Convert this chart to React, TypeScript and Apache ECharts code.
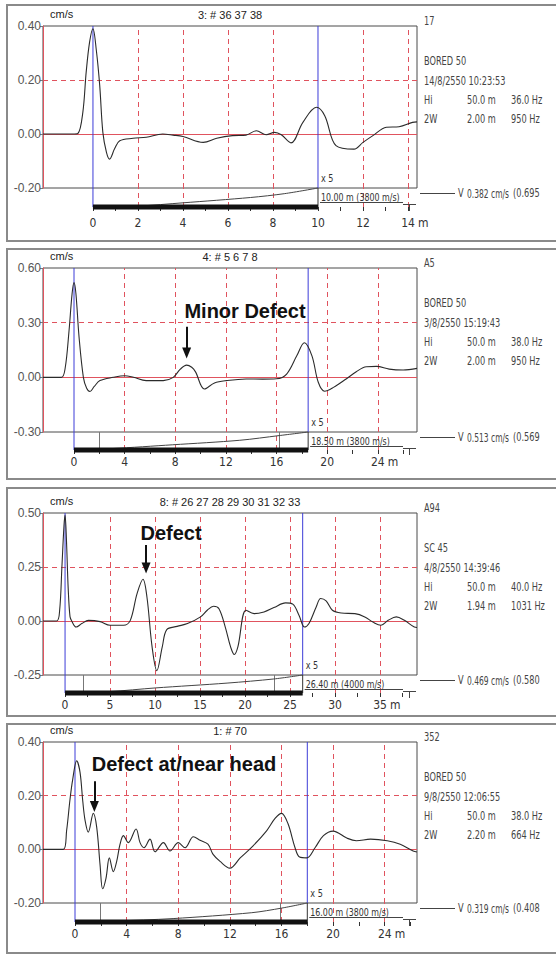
import React, { useEffect, useRef } from 'react';
import * as echarts from 'echarts';

type Pt = [number, number];

const NARROW = "'Liberation Sans Narrow', 'Arial Narrow', 'DejaVu Sans Condensed', 'Liberation Sans', sans-serif";
const SANS = "'Liberation Sans', Arial, sans-serif";
const RED = '#e0535e';
const BLUE = '#3c3cd8';
const INK = '#2b2b2b';

// ---------- data ----------
const sig1: Pt[] = [
  [-2.22, 0], [-0.9, 0], [-0.67, 0.002], [-0.45, 0.08], [-0.3, 0.23], [-0.15, 0.34], [0, 0.39], [0.15, 0.31],
  [0.3, 0.18], [0.44, 0.006], [0.6, -0.068], [0.74, -0.093], [0.96, -0.055], [1.19, -0.025], [1.78, -0.016],
  [2.37, -0.012], [3.1, 0], [3.56, -0.004], [4.0, -0.009], [4.9, -0.031], [5.5, -0.016], [6.2, -0.006],
  [6.8, -0.004], [7.26, 0.012], [7.7, -0.003], [8.07, 0.006], [8.37, -0.003], [8.8, -0.033], [9.33, 0.043],
  [9.93, 0.099], [10.3, 0.068], [10.8, -0.043], [11.6, -0.056], [12.0, -0.031], [12.44, -0.006], [13.04, 0.025],
  [13.6, 0.027], [14.2, 0.043], [14.4, 0.045],
];
const sig2: Pt[] = [
  [-2.45, 0], [-1.0, 0], [-0.7, 0.05], [-0.4, 0.25], [-0.15, 0.46], [0, 0.52], [0.15, 0.46], [0.4, 0.22],
  [0.74, 0.0], [1.0, -0.06], [1.26, -0.078], [1.6, -0.05], [2.05, -0.018], [3.1, 0], [4.0, 0.009], [4.7, 0],
  [5.7, -0.018], [7.05, -0.018], [7.84, 0], [8.4, 0.045], [8.9, 0.067], [9.3, 0.055], [9.6, 0.03], [10.3, -0.064],
  [11.1, -0.031], [12.05, -0.018], [13.6, -0.009], [14.9, -0.01], [16.0, -0.008], [16.8, 0.018], [17.6, 0.118],
  [18.2, 0.19], [18.8, 0.118], [19.3, -0.027], [19.8, -0.076], [20.5, -0.055], [21.5, -0.009], [22.3, 0.031],
  [23.1, 0.058], [23.9, 0.06], [24.9, 0.045], [26.0, 0.04], [27.1, 0.049],
];
const sig3: Pt[] = [
  [-2.45, 0], [-0.93, 0], [-0.6, 0.05], [-0.35, 0.25], [-0.12, 0.44], [0, 0.49], [0.15, 0.38], [0.35, 0.15],
  [0.55, 0.02], [0.74, 0], [1.23, -0.028], [1.86, -0.012], [2.6, 0.003], [3.9, -0.003], [5.0, -0.02], [6.5, -0.02],
  [7.25, 0.003], [8.0, 0.127], [8.66, 0.193], [9.1, 0.11], [9.67, -0.12], [10.2, -0.23], [10.8, -0.12],
  [11.3, -0.04], [12.45, -0.025], [13.6, -0.012], [15.05, 0.019], [15.8, 0.05], [16.5, 0.068], [17.1, 0.057],
  [17.8, -0.028], [18.4, -0.121], [18.8, -0.155], [19.2, -0.12], [20.1, 0.05], [21.0, 0.034], [22.1, 0.042],
  [23.2, 0.062], [24.5, 0.084], [25.3, 0.078], [26.0, 0.026], [26.6, -0.028], [27.1, -0.012], [27.9, 0.065],
  [28.4, 0.104], [29.0, 0.093], [29.7, 0.05], [30.7, 0.037], [32.2, 0.034], [33.3, 0.019], [34.2, -0.005],
  [35.1, -0.02], [35.9, 0.003], [36.8, 0.019], [37.7, 0.003], [38.8, -0.028], [39.1, -0.03],
];
const sig4: Pt[] = [
  [-2.48, 0], [-0.9, 0], [-0.65, 0.07], [-0.39, 0.185], [-0.18, 0.26], [0.13, 0.33], [0.39, 0.287], [0.6, 0.18],
  [0.78, 0.108], [1.03, 0.064], [1.42, 0.134], [1.68, 0.083], [1.94, -0.057], [2.14, -0.147], [2.4, -0.108],
  [2.66, -0.032], [2.97, -0.083], [3.23, -0.045], [3.49, 0.019], [3.75, 0.051], [4.13, 0.025], [4.73, 0.076],
  [5.04, 0.025], [5.35, 0.006], [5.81, 0.038], [6.2, -0.009], [6.85, 0.025], [7.36, -0.006], [8.0, 0.025],
  [8.53, 0.006], [9.17, 0.047], [9.69, 0.034], [10.3, 0.019], [10.7, -0.019], [11.24, -0.045], [12.0, -0.07],
  [12.8, -0.032], [13.8, 0.013], [14.86, 0.07], [15.5, 0.115], [16.0, 0.134], [16.5, 0.096], [17.05, 0.006],
  [17.4, -0.029], [17.96, -0.032], [18.6, 0.006], [19.25, 0.051], [20.0, 0.068], [21.06, 0.042], [21.8, 0.032],
  [22.9, 0.038], [24.2, 0.032], [25.2, 0.019], [26.2, -0.006], [26.5, -0.01],
];
const signals = [sig1, sig2, sig3, sig4];

// amplification ramp (x5) under each plot, fraction of ruler height
const ramp1: Pt[] = [[0, 0], [2, 0.05], [4, 0.22], [7, 0.5], [8.5, 0.7], [10, 1]];
const ramp2: Pt[] = [[0, 0], [3, 0.08], [7.8, 0.29], [13.1, 0.54], [16.2, 0.8], [18.5, 1]];
const ramp3: Pt[] = [[0, 0], [5, 0.08], [10, 0.28], [18, 0.55], [23.2, 0.78], [26.4, 1]];
const ramp4: Pt[] = [[0, 0], [3, 0.05], [7.6, 0.18], [13.7, 0.49], [16, 0.73], [18, 1]];
const ramps = [ramp1, ramp2, ramp3, ramp4];

const titles = ['3: # 36 37 38', '4: # 5 6 7 8', '8: # 26 27 28 29 30 31 32 33', '1: # 70'];
const pileLengths = [10, 18.5, 26.4, 18];
const xRanges: Pt[] = [[-2.22, 14.4], [-2.45, 27.1], [-2.45, 39.1], [-2.48, 26.5]];
const yRanges: [number, number, number][] = [[-0.2, 0.4, 0.2], [-0.3, 0.6, 0.3], [-0.25, 0.5, 0.25], [-0.2, 0.4, 0.2]];
const xLabels = [
  [0, 2, 4, 6, 8, 10, 12, 14],
  [0, 4, 8, 12, 16, 20, 24],
  [0, 5, 10, 15, 20, 25, 30, 35],
  [0, 4, 8, 12, 16, 20, 24],
];
const xTicks = [
  [0, 1, 2, 3, 4, 5, 6, 7, 8, 9, 10, 11, 12, 13, 14],
  [0, 2, 4, 6, 8, 10, 12, 14, 16, 18, 20, 22, 24, 26],
  [0, 2.5, 5, 7.5, 10, 12.5, 15, 17.5, 20, 22.5, 25, 27.5, 30, 32.5, 35, 37.5],
  [0, 2, 4, 6, 8, 10, 12, 14, 16, 18, 20, 22, 24, 26],
];
const vGrids = [
  [2, 4, 6, 8, 12, 14],
  [4, 8, 12, 16, 20, 24],
  [5, 10, 15, 20, 25, 30, 35],
  [4, 8, 12, 16, 20, 24],
];
const rulerMarks = [[], [2, 16.2], [2, 23.2], [1.94, 15.9]];
const depthLabels = ['10.00 m (3800 m/s)', '18.50 m (3800 m/s)', '26.40 m (4000 m/s)', '16.00 m (3800 m/s)'];
const pileIds = ['17', 'A5', 'A94', '352'];
const pileTypes = ['BORED 50', 'BORED 50', 'SC 45', 'BORED 50'];
const dates = ['14/8/2550 10:23:53', '3/8/2550 15:19:43', '4/8/2550 14:39:46', '9/8/2550 12:06:55'];
const hiLen = ['50.0 m', '50.0 m', '50.0 m', '50.0 m'];
const hiFreq = ['36.0 Hz', '38.0 Hz', '40.0 Hz', '38.0 Hz'];
const wLen = ['2.00 m', '2.00 m', '1.94 m', '2.20 m'];
const wFreq = ['950 Hz', '950 Hz', '1031 Hz', '664 Hz'];
const vPeak = ['0.382 cm/s', '0.513 cm/s', '0.469 cm/s', '0.319 cm/s'];
const vPeak2 = ['(0.695', '(0.569', '(0.580', '(0.408'];
const defectTexts = ['', 'Minor Defect', 'Defect', 'Defect at/near head'];
// arrow: [x (m), start value, end value]
const defectArrows: ([number, number, number] | null)[] = [null, [8.9, 0.278, 0.134], [9.0, 0.352, 0.245], [1.5, 0.254, 0.16]];

// ---------- layout ----------
const PLOT_LEFT = 43;
const PLOT_W = 374;
const layout = [
  { frameTop: 5, frameBottom: 241, top: 26, height: 162, rulerH: 19, labelMargin: 10, ann: [0, 0] },
  { frameTop: 249, frameBottom: 479, top: 268, height: 164, rulerH: 18, labelMargin: 6, ann: [245, 43] },
  { frameTop: 488, frameBottom: 716, top: 513, height: 162, rulerH: 18, labelMargin: 6, ann: [171, 20] },
  { frameTop: 724, frameBottom: 953, top: 742, height: 161, rulerH: 19, labelMargin: 6, ann: [184, 22] },
];

function txt(x: number, y: number, text: string, size: number, family: string, color: string, align = 'left', weight = 'normal', sx = 1) {
  return {
    type: 'text', x, y, scaleX: sx, silent: true, z: 50,
    style: { text, fontSize: size, fontFamily: family, fontWeight: weight, fill: color, textAlign: align, textVerticalAlign: 'middle' },
  };
}
function ln(x1: number, y1: number, x2: number, y2: number, stroke: string, w = 1) {
  return { type: 'line', silent: true, z: 50, shape: { x1, y1, x2, y2 }, style: { stroke, lineWidth: w } };
}
function vline(xi: number, yi: number, x: number, y0: number, y1: number, color: string, z: number) {
  return {
    type: 'line', xAxisIndex: xi, yAxisIndex: yi, data: [[x, y0], [x, y1]], showSymbol: false, silent: true, z,
    clip: false, lineStyle: { color, width: 1, type: 'solid' },
  };
}

function buildOption() {
  const grid: any[] = [];
  const xAxis: any[] = [];
  const yAxis: any[] = [];
  const series: any[] = [];
  const graphic: any[] = [];
  const NS = 0.76; // horizontal squeeze for the narrow instrument font

  layout.forEach((L, i) => {
    const [xmin, xmax] = xRanges[i];
    const [ymin, ymax, yint] = yRanges[i];
    const bottom = L.top + L.height;
    const bar = bottom + L.rulerH;
    const pile = pileLengths[i];
    const xpx = (v: number) => PLOT_LEFT + ((v - xmin) / (xmax - xmin)) * PLOT_W;
    const pg = 2 * i;
    const rg = 2 * i + 1;

    grid.push({ left: PLOT_LEFT, top: L.top, width: PLOT_W, height: L.height, show: true, borderColor: '#4a4a4a', borderWidth: 1, backgroundColor: 'transparent' });
    grid.push({ left: PLOT_LEFT, top: bottom, width: PLOT_W, height: L.rulerH, show: false });

    xAxis.push({ type: 'value', gridIndex: pg, min: xmin, max: xmax, show: false, axisLine: { onZero: false } });
    xAxis.push({
      type: 'value', gridIndex: rg, min: xmin, max: xmax, position: 'bottom',
      axisLine: { show: false, onZero: false }, splitLine: { show: false },
      axisTick: { show: true, customValues: xTicks[i], length: 4, lineStyle: { color: '#333' } },
      axisLabel: { customValues: xLabels[i], margin: L.labelMargin, fontSize: 12, color: '#333', fontFamily: NARROW },
    });
    yAxis.push({
      type: 'value', gridIndex: pg, min: ymin, max: ymax, interval: yint, position: 'left',
      axisLine: { show: true, onZero: false, lineStyle: { color: RED } },
      axisTick: { show: true, length: 3, lineStyle: { color: '#777' } },
      axisLabel: { margin: 2, fontSize: 12, color: '#555', fontFamily: SANS, formatter: (v: number) => v.toFixed(2) },
      splitLine: { show: false },
    });
    yAxis.push({ type: 'value', gridIndex: rg, min: 0, max: 1, show: false, axisLine: { onZero: false } });

    const dashed = { color: RED, type: [5, 4], width: 1 };
    // grid lines (behind signal)
    series.push({
      type: 'line', xAxisIndex: pg, yAxisIndex: pg, data: signals[i], showSymbol: false, silent: true, z: 1,
      lineStyle: { opacity: 0 },
      markLine: {
        silent: true, symbol: ['none', 'none'], label: { show: false }, z: 1, animation: false,
        data: [
          ...vGrids[i].map((v) => ({ xAxis: v, lineStyle: dashed })),
          { yAxis: yint, lineStyle: dashed },
          { yAxis: 0, lineStyle: { color: RED, type: 'solid', width: 1 } },
        ],
      },
    });
    // pile head / toe lines
    series.push(vline(pg, pg, 0, ymin, ymax, BLUE, 3));
    series.push(vline(pg, pg, pile, ymin, ymax, BLUE, 3));
    series.push(vline(rg, rg, 0, 0, 1, BLUE, 3));
    series.push(vline(rg, rg, pile, 0, 1, '#333', 3));

    // signal
    const arrow = defectArrows[i];
    series.push({
      type: 'line', xAxisIndex: pg, yAxisIndex: pg, data: signals[i], showSymbol: false, smooth: 0.35, z: 4,
      lineStyle: { color: INK, width: 1.1 },
      markLine: arrow ? {
        silent: true, label: { show: false }, animation: false, symbolSize: [9, 11],
        lineStyle: { color: '#111', type: 'solid', width: 2 },
        data: [[{ coord: [arrow[0], arrow[1]], symbol: 'none' }, { coord: [arrow[0], arrow[2]], symbol: 'triangle' }]],
      } : undefined,
    });
    // ruler bar
    series.push({
      type: 'line', xAxisIndex: rg, yAxisIndex: rg, data: [[0, 0], [pile, 0]], showSymbol: false, clip: false, z: 5,
      lineStyle: { color: '#111', width: 5 },
    });
    // amplification ramp + ruler lines
    series.push({
      type: 'line', xAxisIndex: rg, yAxisIndex: rg, data: ramps[i], showSymbol: false, smooth: 0.3, clip: false, z: 4,
      lineStyle: { color: '#444', width: 1 },
      markLine: {
        silent: true, symbol: ['none', 'none'], label: { show: false }, animation: false, z: 1,
        data: [
          ...vGrids[i].filter((v) => v > 0).map((v) => ({ xAxis: v, lineStyle: dashed })),
          ...rulerMarks[i].map((v) => ({ xAxis: v, lineStyle: { color: '#777', type: 'solid', width: 1 } })),
        ],
      },
    });

    // frame
    graphic.push({ type: 'rect', silent: true, z: 0, shape: { x: 7, y: L.frameTop, width: 580, height: L.frameBottom - L.frameTop }, style: { fill: 'none', stroke: '#8a8a8a', lineWidth: 2 } });

    // header texts
    graphic.push(txt(50, L.top - 12, 'cm/s', 11, SANS, '#222'));
    graphic.push(txt(230, L.top - 11, titles[i], 11, SANS, '#222', 'center'));

    // info block
    const ix = 424;
    const c = '#444';
    const fs = 12;
    graphic.push(txt(ix, L.top - 5, pileIds[i], fs, NARROW, c, 'left', 'normal', NS));
    graphic.push(txt(ix, L.top + 35, pileTypes[i], fs, NARROW, c, 'left', 'normal', NS));
    graphic.push(txt(ix, L.top + 55, dates[i], fs, NARROW, c, 'left', 'normal', NS));
    graphic.push(txt(ix, L.top + 74, 'Hi', fs, NARROW, c, 'left', 'normal', NS));
    graphic.push(txt(467, L.top + 74, hiLen[i], fs, NARROW, c, 'left', 'normal', NS));
    graphic.push(txt(511, L.top + 74, hiFreq[i], fs, NARROW, c, 'left', 'normal', NS));
    graphic.push(txt(ix, L.top + 93, '2W', fs, NARROW, c, 'left', 'normal', NS));
    graphic.push(txt(467, L.top + 93, wLen[i], fs, NARROW, c, 'left', 'normal', NS));
    graphic.push(txt(511, L.top + 93, wFreq[i], fs, NARROW, c, 'left', 'normal', NS));
    graphic.push(ln(420, bottom + 5.5, 455, bottom + 5.5, c));
    graphic.push(txt(458, bottom + 5, 'V', fs, NARROW, c, 'left', 'normal', NS));
    graphic.push(txt(467, bottom + 5, vPeak[i], fs, NARROW, c, 'left', 'normal', 0.7));
    graphic.push(txt(513, bottom + 5, vPeak2[i], fs, NARROW, c, 'left', 'normal', NS));

    // ruler texts
    const lpx = xpx(pile);
    graphic.push(txt(lpx + 3, bottom - 10, 'x 5', 10, NARROW, '#333', 'left', 'normal', 0.9));
    graphic.push(txt(lpx + 3, bottom + 9, depthLabels[i], 10, NARROW, '#333', 'left', 'normal', 0.88));
    graphic.push(ln(lpx + 2, bottom + 14.5, 403, bottom + 14.5, c));
    graphic.push(ln(403, bottom + 16.5, 416, bottom + 16.5, c));
    graphic.push(ln(409.5, bottom + 16.5, 409.5, bottom + 23, c));
    const last = xLabels[i][xLabels[i].length - 1];
    graphic.push(txt(xpx(last) + 10, bar + L.labelMargin + 6, 'm', 12, NARROW, '#333'));

    // annotation
    if (defectTexts[i]) {
      graphic.push(txt(L.ann[0], L.top + L.ann[1], defectTexts[i], 20, SANS, '#111', 'center', 'bold'));
    }
  });

  return { animation: false, backgroundColor: '#ffffff', grid, xAxis, yAxis, series, graphic };
}

export default function App() {
  const ref = useRef<HTMLDivElement>(null);
  useEffect(() => {
    if (!ref.current) return;
    const chart = echarts.init(ref.current, null, { renderer: 'svg' });
    chart.setOption(buildOption() as any);
    return () => chart.dispose();
  }, []);
  return <div ref={ref} style={{ position: 'fixed', left: 0, top: 0, width: 556, height: 956, background: '#fff' }} />;
}
